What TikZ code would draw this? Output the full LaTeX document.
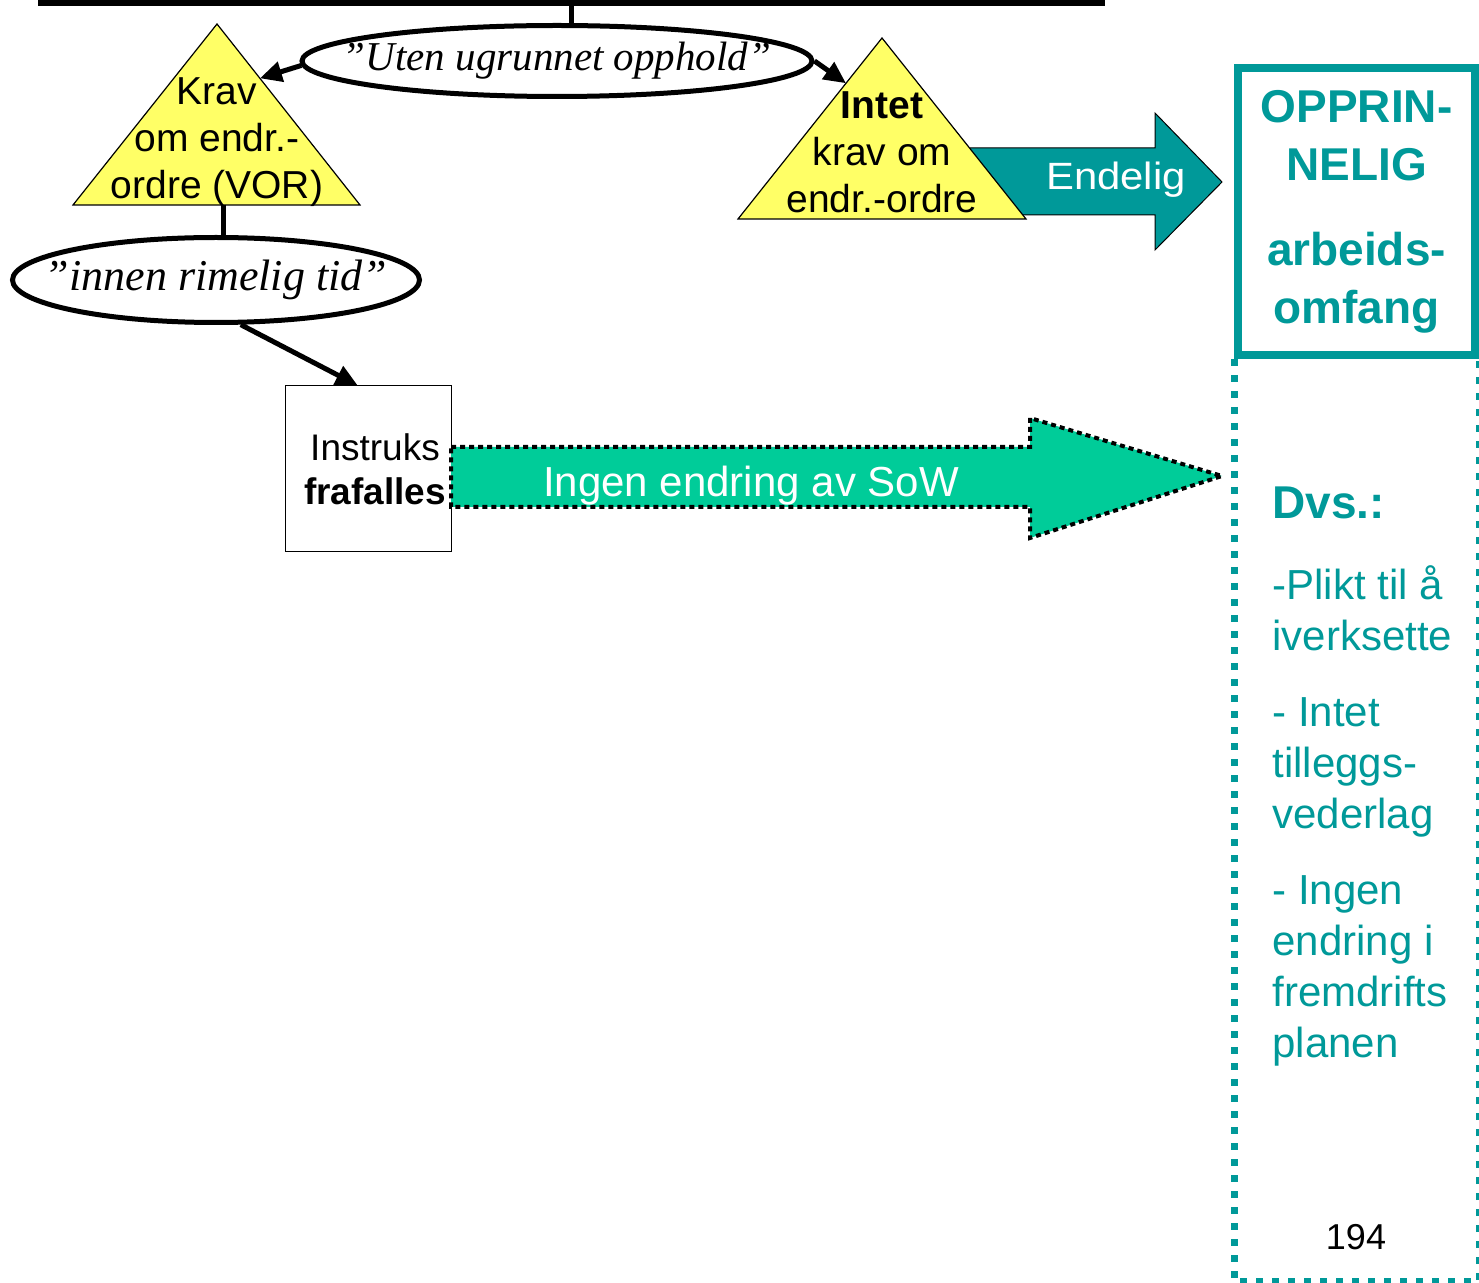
\documentclass[tikz,border=0pt]{standalone}
\usepackage{fontspec}
\setmainfont{Liberation Sans}
\newfontfamily\widesans{Liberation Sans}[FakeStretch=1.1]
\newfontfamily\handfont{Liberation Serif}
\usepackage{tikz}
\usetikzlibrary{arrows.meta,shapes.geometric,calc}
\definecolor{triyellow}{RGB}{255,255,102}
\definecolor{sowgreen}{RGB}{0,204,153}
\definecolor{scopeteal}{RGB}{0,153,153}
\newcommand{\fs}[2]{\fontsize{#1}{#2}\selectfont}
\tikzset{
  phrase/.style={ellipse, draw, line width=2.5pt, inner xsep=-70pt, inner ysep=-20pt, font=\handfont\itshape\fs{20.5}{24}},
  tri/.style={fill=triyellow, draw=black, line width=0.6pt},
  tritext/.style={align=center, inner sep=0pt, font=\fs{19.5}{23.5}},
  blockarrow/.style={draw=black, line width=0.5pt},
  wtext/.style={text=white, inner sep=0pt},
  link/.style={line width=2.5pt},
  scopetext/.style={text=scopeteal, align=left, anchor=north west, inner sep=0pt, font=\fs{21}{25.5}},
}

\begin{document}
\begin{tikzpicture}[x=0.5pt, y=-0.5pt, >={Triangle[length=11pt,width=10pt]}]
    \useasboundingbox (0,0) rectangle (1479,1283);
    \node[fill=black, inner sep=0pt, minimum width=533.5pt, minimum height=5pt] (bar) at (571.5,1) {};
    \node[phrase, minimum width=255pt, minimum height=35.5pt] (uten) at (557,61) {”Uten ugrunnet opphold”};
    \draw[link] (bar.south) -- (bar.south |- uten.north);
    % triangles and the final arrow
    \draw[tri] (217,24) coordinate (kravtop) -- (360,205) coordinate (kravright) -- (73,205) coordinate (kravleft) -- cycle;
    \node[tritext] (krav) at (217,142) {Krav\\om endr.-\\ordre (VOR)};
    \draw[blockarrow, fill=scopeteal] (970,148) -- (1155,148) -- (1155,113) -- (1222,182) -- (1155,250) -- (1155,215) -- (970,215) -- cycle;
    \node[wtext, font=\widesans\fs{19}{22}] (endelig) at (1116,180) {Endelig};
    \draw[tri] (882,38) coordinate (intettop) -- (1026,219) coordinate (intetright) -- (738,219) coordinate (intetleft) -- cycle;
    \node[tritext] (intet) at (882,152) {\textbf{Intet}\\krav om\\endr.-ordre};
    \draw[link, ->] (uten.181.5) -- ($(kravtop)!0.3!(kravright)$);
    \draw[link, ->] (uten.east) -- ($(intettop)!0.25!(intetleft)$);
    % second step
    \coordinate (kravbase) at ($(kravleft)!0.526!(kravright)$);
    \node[phrase, minimum width=203.5pt, minimum height=42.5pt, font=\handfont\itshape\fs{22}{26}] (innen) at (216,280) {”innen rimelig tid”};
    \draw[link] (kravbase) -- (kravbase |- innen.north);
    \node[draw, line width=0.5pt, minimum size=83pt, inner sep=0pt, align=center, font=\fs{18.5}{22}] (instruks) at (368,469) {\hspace*{7pt}Instruks\\\hspace*{7pt}\textbf{frafalles}};
    \draw[link, ->] (innen.-61) -- (instruks.97);
    \draw[fill=sowgreen, line width=2pt, dash pattern=on 2.5pt off 2pt] (451,447) -- (1030,447) -- (1030,418) -- (1222,476) -- (1030,538) -- (1030,507) -- (451,507) -- cycle;
    \node[wtext, font=\fs{21}{24}] (sow) at (751,486) {Ingen endring av SoW};
    % scope column
    \node[draw=scopeteal, line width=4pt, minimum width=118.5pt, minimum height=143.5pt, inner sep=0pt, align=center, text=scopeteal, font=\bfseries\fs{23}{29}] (oppr) at (1356.5,211.5) {OPPRIN-\\NELIG\\[13.5pt]arbeids-\\omfang};
    \draw[scopeteal, line width=3.5pt, dash pattern=on 3.5pt off 4.5pt] (oppr.south west) -- ++(0,922) -| (oppr.south east);
    \node[text=scopeteal, anchor=west, inner sep=0pt, font=\bfseries\fs{23}{27}] (dvs) at (1272,503) {Dvs.:};
    \node[scopetext] (plikt) at (1272,565) {-Plikt til å\\iverksette};
    \node[scopetext] (vederlag) at (1272,697) {- Intet\\tilleggs-\\vederlag};
    \node[scopetext] (fremdrift) at (1272,875) {- Ingen\\endring i\\fremdrifts\\planen};
    \node[font=\fs{18}{20}] (side) at (1356,1237) {194};
\end{tikzpicture}
\end{document}
